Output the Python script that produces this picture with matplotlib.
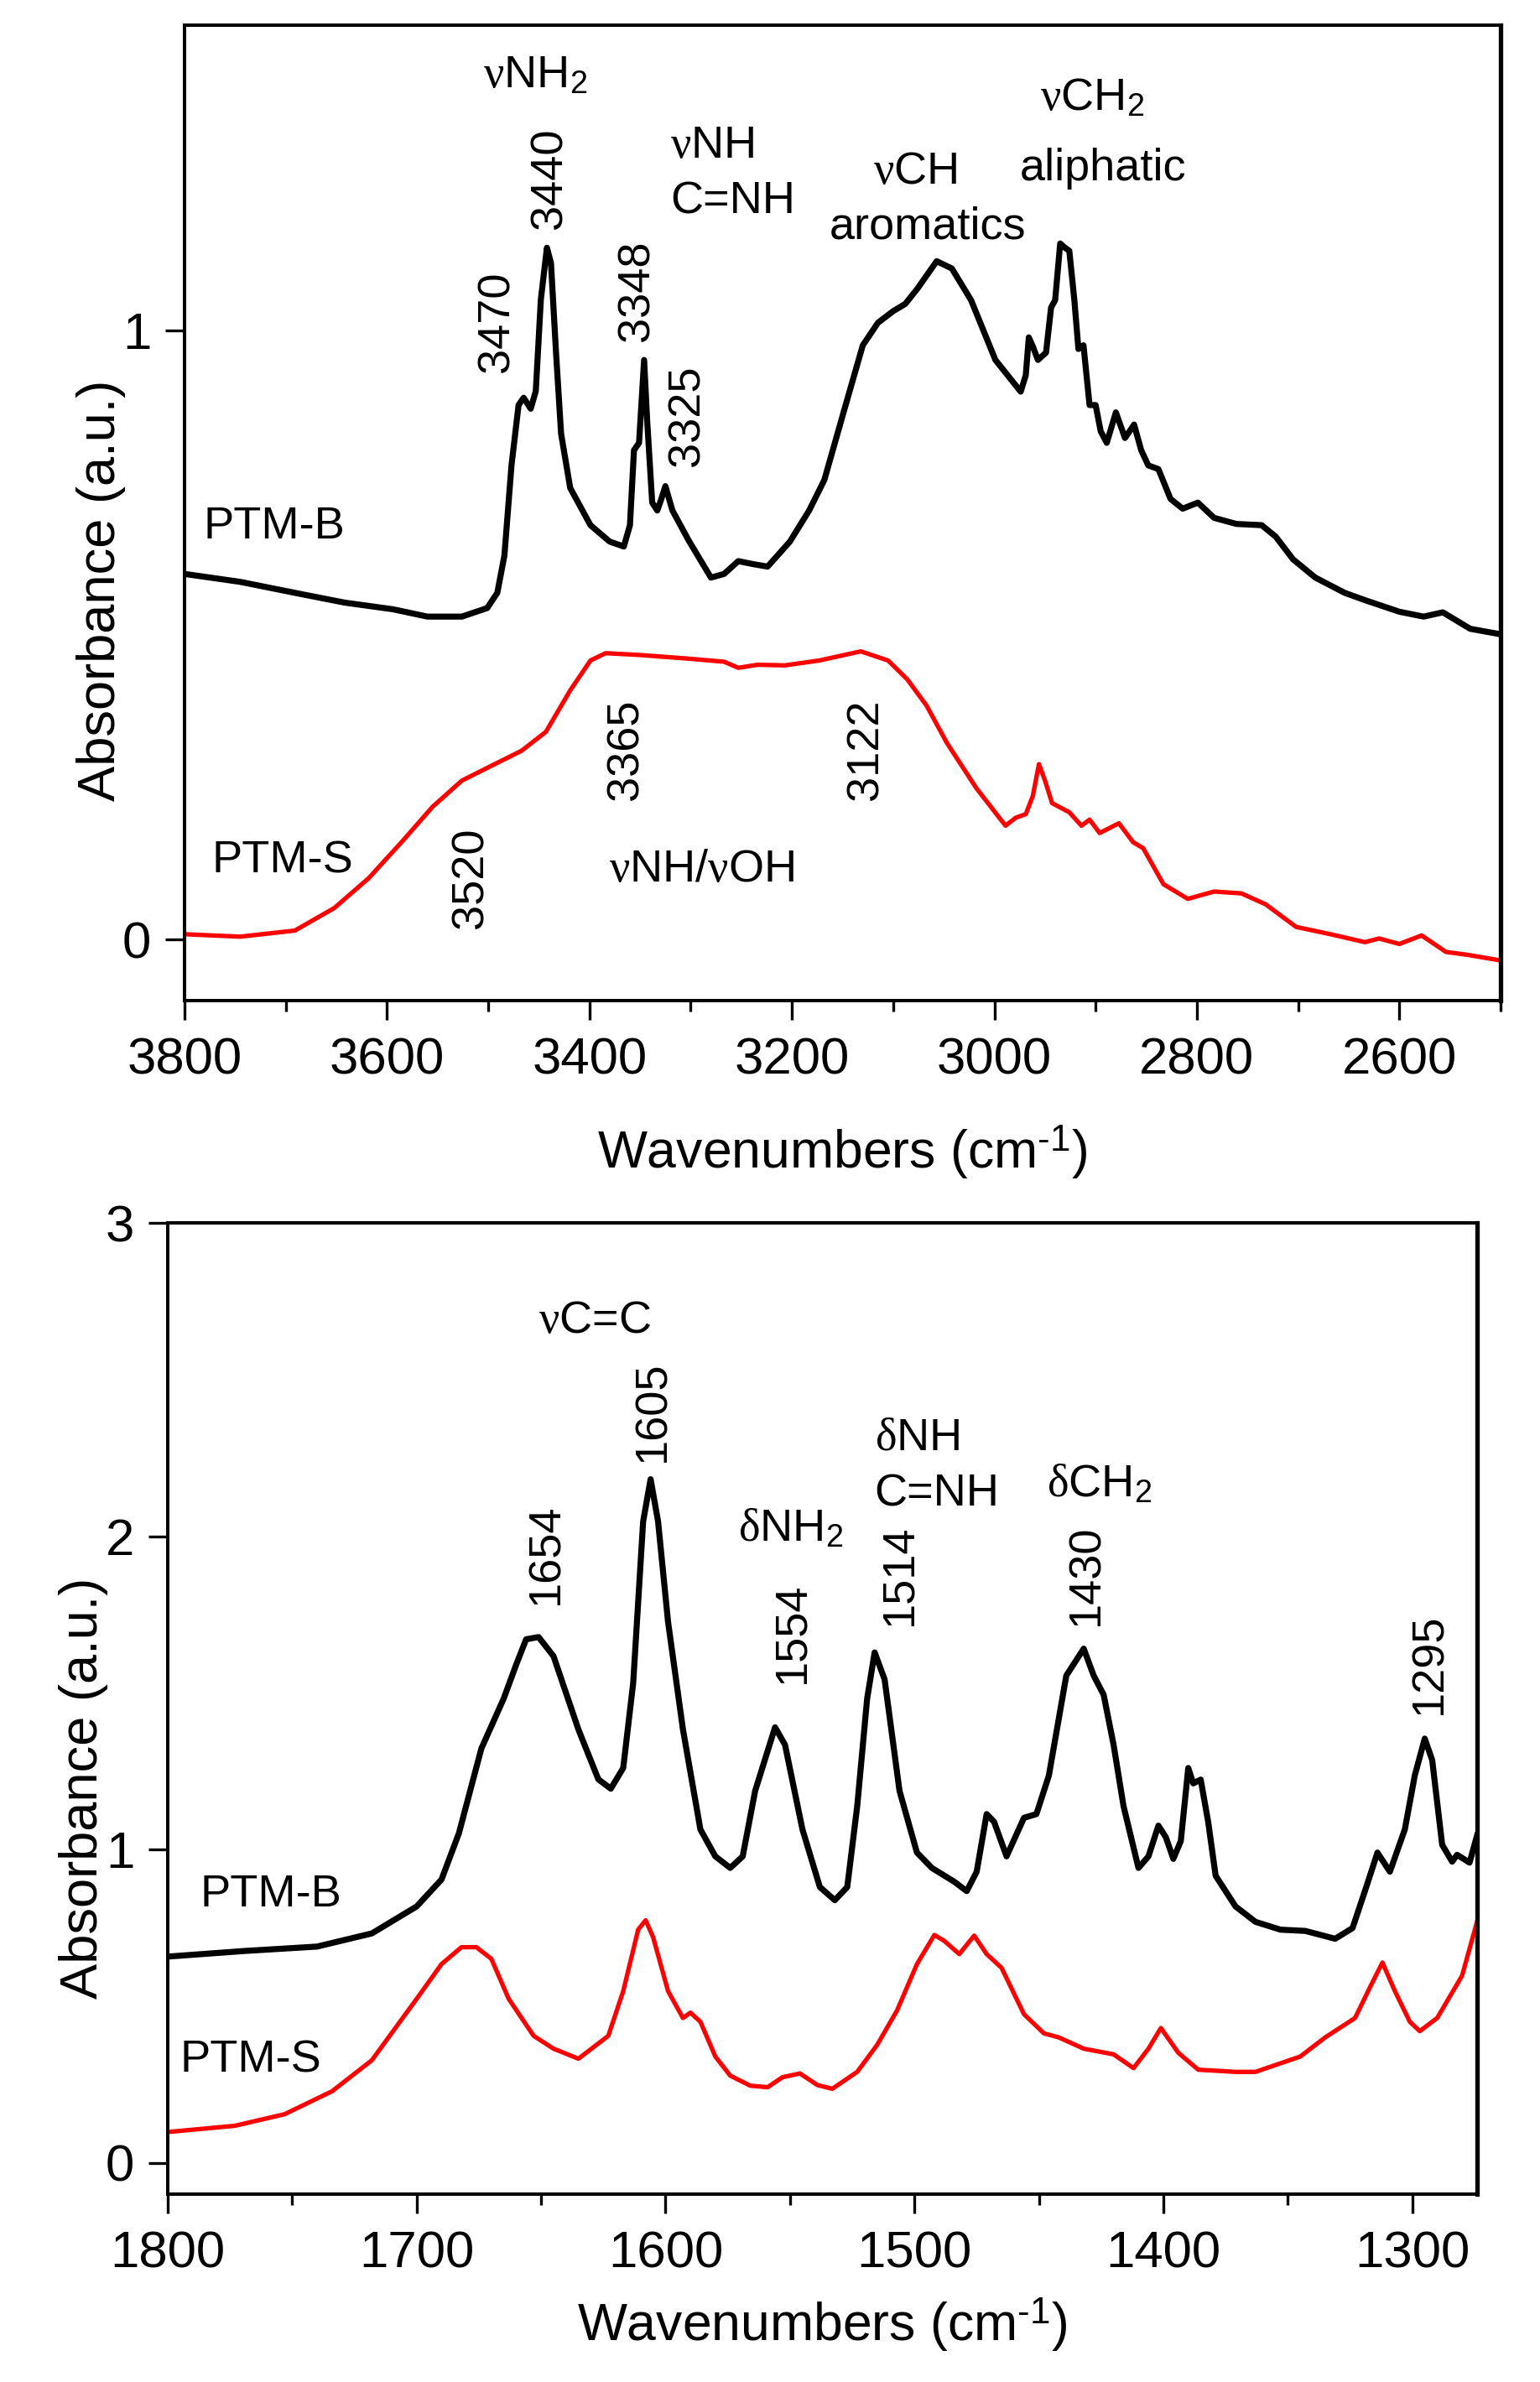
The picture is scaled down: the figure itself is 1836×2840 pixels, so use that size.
import matplotlib
matplotlib.use('Agg')
import matplotlib.pyplot as plt
from matplotlib.ticker import MultipleLocator

plt.rcParams['font.family'] = ['Liberation Sans', 'DejaVu Sans']
plt.rcParams['mathtext.fontset'] = 'custom'
plt.rcParams['mathtext.rm'] = 'Liberation Sans'
plt.rcParams['mathtext.it'] = 'Liberation Serif'
plt.rcParams['mathtext.bf'] = 'Liberation Sans:bold'

# ---- top panel: 3800-2500 cm-1 ----
top_wn_b = [3800, 3745, 3691, 3642, 3594, 3560, 3526, 3501, 3491, 3484, 3477, 3470,
            3465, 3458, 3453, 3448, 3442, 3438, 3433, 3428, 3419, 3399, 3380, 3366,
            3360, 3356, 3351, 3346, 3343, 3338, 3333, 3329, 3325, 3318, 3302, 3280,
            3267, 3253, 3238, 3224, 3202, 3183, 3168, 3149, 3130, 3115, 3100, 3088,
            3076, 3057, 3042, 3023, 2999, 2974, 2969, 2966, 2962, 2957, 2949, 2944,
            2940, 2935, 2931, 2926, 2921, 2917, 2912, 2906, 2900, 2895, 2889, 2880,
            2871, 2862, 2855, 2848, 2838, 2826, 2814, 2799, 2783, 2761, 2736, 2722,
            2705, 2683, 2654, 2634, 2600, 2576, 2557, 2530, 2500]
top_b = [0.600, 0.587, 0.569, 0.553, 0.542, 0.530, 0.530, 0.544, 0.569, 0.630, 0.778, 0.877,
         0.889, 0.871, 0.900, 1.050, 1.135, 1.110, 0.963, 0.830, 0.741, 0.680, 0.653, 0.645,
         0.680, 0.803, 0.815, 0.951, 0.852, 0.717, 0.704, 0.723, 0.744, 0.704, 0.655, 0.594,
         0.600, 0.621, 0.616, 0.612, 0.653, 0.704, 0.754, 0.865, 0.975, 1.012, 1.031, 1.043,
         1.068, 1.113, 1.101, 1.049, 0.951, 0.899, 0.926, 0.988, 0.973, 0.951, 0.963, 1.037,
         1.049, 1.142, 1.136, 1.130, 1.049, 0.969, 0.975, 0.877, 0.877, 0.834, 0.815, 0.865,
         0.823, 0.845, 0.803, 0.778, 0.772, 0.723, 0.707, 0.717, 0.692, 0.682, 0.680, 0.661,
         0.624, 0.594, 0.569, 0.557, 0.538, 0.530, 0.537, 0.510, 0.501]

top_wn_s = [3800, 3745, 3691, 3652, 3618, 3584, 3555, 3526, 3496, 3467, 3443, 3419,
            3399, 3384, 3350, 3302, 3267, 3253, 3234, 3207, 3173, 3132, 3105, 3086,
            3067, 3047, 3018, 2989, 2979, 2969, 2962, 2956, 2950, 2943, 2926, 2914,
            2906, 2896, 2877, 2863, 2853, 2833, 2809, 2783, 2756, 2732, 2702, 2668,
            2634, 2620, 2600, 2578, 2554, 2532, 2500]
top_s = [0.009, 0.005, 0.015, 0.052, 0.101, 0.163, 0.218, 0.261, 0.286, 0.310, 0.341, 0.409,
         0.458, 0.470, 0.467, 0.461, 0.456, 0.446, 0.451, 0.450, 0.458, 0.473, 0.458, 0.427,
         0.384, 0.323, 0.249, 0.187, 0.200, 0.206, 0.236, 0.288, 0.261, 0.224, 0.209, 0.187,
         0.197, 0.175, 0.191, 0.160, 0.150, 0.091, 0.067, 0.079, 0.076, 0.058, 0.021, 0.009,
         -0.004, 0.002, -0.007, 0.007, -0.020, -0.025, -0.034]

# ---- bottom panel: 1800-1274 cm-1 ----
bot_wn_b = [1800, 1769, 1740, 1718, 1700, 1690, 1683, 1674, 1665, 1660, 1656, 1651, 1645,
            1635, 1627, 1622, 1617, 1613, 1609, 1606, 1603, 1599, 1593, 1586, 1580,
            1574, 1569, 1564, 1556, 1552, 1545, 1538, 1532, 1527, 1523, 1519, 1516,
            1512, 1506, 1499, 1493, 1484, 1479, 1475, 1471, 1468, 1463, 1456, 1451,
            1446, 1439, 1432, 1428, 1424, 1420, 1416, 1410, 1406, 1402, 1399, 1396,
            1393, 1390, 1388, 1385, 1382, 1379, 1371, 1363, 1353, 1343, 1331, 1324,
            1318, 1314, 1309, 1303, 1299, 1295, 1292, 1288, 1284, 1282, 1277, 1274]
bot_b = [0.658, 0.676, 0.690, 0.732, 0.818, 0.904, 1.052, 1.322, 1.482, 1.590, 1.671, 1.678, 1.617,
         1.383, 1.224, 1.194, 1.260, 1.531, 2.047, 2.182, 2.047, 1.727, 1.383, 1.064, 0.978,
         0.941, 0.978, 1.187, 1.390, 1.334, 1.064, 0.880, 0.838, 0.880, 1.138, 1.482, 1.629,
         1.543, 1.187, 0.990, 0.941, 0.897, 0.867, 0.929, 1.113, 1.088, 0.978, 1.101, 1.113,
         1.236, 1.555, 1.641, 1.555, 1.494, 1.334, 1.138, 0.941, 0.978, 1.076, 1.039, 0.970,
         1.027, 1.260, 1.211, 1.223, 1.088, 0.916, 0.818, 0.769, 0.744, 0.740, 0.715, 0.749,
         0.892, 0.990, 0.929, 1.064, 1.236, 1.354, 1.285, 1.015, 0.961, 0.983, 0.958, 1.044]

bot_wn_s = [1800, 1773, 1753, 1734, 1718, 1700, 1690, 1682, 1676, 1670, 1663, 1653,
            1645, 1635, 1623, 1617, 1611, 1608, 1605, 1599, 1593, 1590, 1586, 1580,
            1574, 1566, 1559, 1553, 1546, 1539, 1533, 1523, 1515, 1507, 1499, 1492,
            1488, 1482, 1476, 1471, 1465, 1456, 1448, 1442, 1432, 1420, 1412, 1406,
            1401, 1394, 1386, 1371, 1363, 1345, 1335, 1323, 1317, 1312, 1307, 1301,
            1297, 1290, 1280, 1274]
bot_s = [0.098, 0.118, 0.155, 0.228, 0.327, 0.523, 0.634, 0.688, 0.688, 0.651, 0.523, 0.405,
         0.364, 0.332, 0.405, 0.548, 0.744, 0.774, 0.720, 0.548, 0.462, 0.479, 0.450, 0.339,
         0.278, 0.246, 0.241, 0.273, 0.285, 0.248, 0.236, 0.290, 0.376, 0.486, 0.634, 0.727,
         0.708, 0.666, 0.725, 0.666, 0.622, 0.474, 0.413, 0.400, 0.364, 0.346, 0.302, 0.364,
         0.430, 0.351, 0.297, 0.290, 0.290, 0.339, 0.400, 0.462, 0.560, 0.639, 0.548, 0.450,
         0.420, 0.462, 0.597, 0.769]

# peak labels (rotated numbers) and band assignments
top_peaks = [('3440', 3439, 1.166), ('3470', 3491, 0.930), ('3348', 3353, 0.982),
             ('3325', 3303, 0.776), ('3365', 3364, 0.229), ('3520', 3517, 0.018),
             ('3122', 3127, 0.229)]
top_bands = [(r'$\nu$NH$_2$', 3505, 1.397), (r'$\nu$NH', 3320, 1.283), ('C=NH', 3320, 1.191),
             (r'$\nu$CH', 3120, 1.240), ('aromatics', 3163, 1.150),
             (r'$\nu$CH$_2$', 2955, 1.360), ('aliphatic', 2975, 1.246),
             (r'$\nu$NH/$\nu$OH', 3381, 0.095), ('PTM-B', 3781, 0.658), ('PTM-S', 3773, 0.110)]

bot_peaks = [('1605', 1605, 2.238), ('1654', 1648, 1.781), ('1554', 1549, 1.531),
             ('1514', 1506, 1.715), ('1430', 1431, 1.715), ('1295', 1293, 1.432)]
bot_bands = [(r'$\nu$C=C', 1651, 2.649), (r'$\delta$NH$_2$', 1571, 1.985),
             (r'$\delta$NH', 1516, 2.275), ('C=NH', 1516, 2.096), (r'$\delta$CH$_2$', 1447, 2.125),
             ('PTM-B', 1787, 0.818), ('PTM-S', 1795, 0.290)]

fig = plt.figure(figsize=(18.36, 28.40), dpi=100)
ax1 = fig.add_axes([0.1198, 0.5799, 0.8546, 0.4095])
ax2 = fig.add_axes([0.1089, 0.0789, 0.8502, 0.4077])


def style_axis(ax, xlim, ylim, xmajor, yticks, ylab_xy, xlab_y):
    ax.set_xlim(*xlim)
    ax.set_ylim(*ylim)
    ax.xaxis.set_major_locator(MultipleLocator(xmajor))
    ax.xaxis.set_minor_locator(MultipleLocator(xmajor / 2))
    ax.set_yticks(yticks)
    ax.tick_params(axis='both', which='major', direction='out', length=16.5, width=2.4,
                   labelsize=44.5)
    ax.tick_params(axis='x', which='major', pad=15)
    ax.tick_params(axis='y', which='major', pad=12)
    ax.tick_params(axis='x', which='minor', direction='out', length=9.5, width=2.4)
    for side in ['left', 'top', 'bottom']:
        ax.spines[side].set_linewidth(2.9)
    ax.spines['right'].set_linewidth(3.8)
    ax.set_xlabel(r'Wavenumbers (cm$^{\text{-}1}$)', fontsize=45)
    ax.xaxis.label.set_va('baseline')
    ax.xaxis.set_label_coords(0.5, xlab_y)
    ax.set_ylabel('Absorbance (a.u.)', fontsize=45.5)
    ax.yaxis.set_label_coords(*ylab_xy)


def put_labels(ax, peaks, bands):
    for txt, x, y in peaks:
        ax.text(x, y, txt, rotation=90, ha='center', va='bottom', fontsize=39)
    for txt, x, y in bands:
        ax.text(x, y, txt, ha='left', va='baseline', fontsize=39)


# top panel
ax1.plot(top_wn_b, top_b, color='black', lw=5.2, solid_joinstyle='round')
ax1.plot(top_wn_s, top_s, color='red', lw=3.8, solid_joinstyle='round')
style_axis(ax1, (3800, 2500), (-0.1, 1.5), 200, [0, 1], (-0.0445, 0.421), -0.172)
put_labels(ax1, top_peaks, top_bands)

# bottom panel
ax2.plot(bot_wn_b, bot_b, color='black', lw=5.2, solid_joinstyle='round')
ax2.plot(bot_wn_s, bot_s, color='red', lw=3.8, solid_joinstyle='round')
style_axis(ax2, (1800, 1274), (-0.1, 3), 100, [0, 1, 2, 3], (-0.0455, 0.418), -0.151)
put_labels(ax2, bot_peaks, bot_bands)

fig.savefig('out.png', dpi=100)
